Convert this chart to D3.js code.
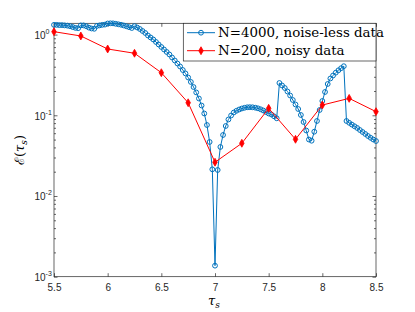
<!DOCTYPE html>
<html><head><meta charset="utf-8">
<script src="https://cdn.jsdelivr.net/npm/d3@7"></script>
<style>body{margin:0;background:#fff}svg{display:block}</style>
</head><body>
<script>
// ---- data ----
const blueStart = 5.5, blueStep = 0.025;
const blueValues = [
 1.32,1.32,1.31,1.31,1.30,1.29,1.27,1.24,1.21,1.20,
 1.30,1.30,1.27,1.22,1.19,1.18,1.28,1.30,1.32,1.33,
 1.373,1.38,1.378,1.361,1.341,1.323,1.297,1.267,1.235,1.207,
 1.271,1.224,1.173,1.108,1.047,0.975,0.921,0.870,0.810,0.754,
 0.702,0.654,0.609,0.567,0.520,0.478,0.438,0.402,0.364,0.330,
 0.294,0.259,0.224,0.192,0.1615,0.1322,0.1053,0.0758,0.0467,0.0214,
 0.00137,0.0210,0.0405,0.0570,0.0737,0.0887,0.0994,0.1083,0.1137,0.1180,
 0.1214,0.1239,0.1257,0.1260,0.1257,0.1242,0.1221,0.1187,0.1147,0.1099,
 0.1053,0.1023,0.0972,0.0918,0.2513,0.2340,0.2180,0.1972,0.1759,0.1547,
 0.1361,0.1197,0.1009,0.0826,0.0648,0.0501,0.0484,0.0626,0.0850,0.1163,
 0.1504,0.1944,0.2443,0.2858,0.3112,0.3372,0.3611,0.3834,0.4058,0.0850,
 0.0807,0.0767,0.0731,0.0696,0.0657,0.0621,0.0587,0.0554,0.0526,0.0501,
 0.0480
];
const blueTau = blueValues.map((_, i) => +(blueStart + i * blueStep).toFixed(3));

const redTau = [5.5,5.75,6,6.25,6.5,6.75,7,7.25,7.5,7.75,8,8.25,8.5];
const redValues = [1.086,0.961,0.663,0.587,0.337,0.143,0.0262,0.045,0.122,0.0504,0.134,0.162,0.111];

const xTicks = [5.5,6,6.5,7,7.5,8,8.5];
const yTicks = [1e-3,1e-2,1e-1,1];
const yTickExp = ["-3","-2","-1","0"];
const legendLabels = ["N=4000, noise-less data","N=200, noisy data"];

// ---- layout ----
const W = 415, H = 312;
const L = 54, R = 376, T = 23.3, B = 276.7;
const blue = "#0072BD", red = "#FF0000", axisCol = "#262626";

const svg = d3.select("body").append("svg").attr("width", W).attr("height", H);

const x = d3.scaleLinear().domain([5.5, 8.5]).range([L, R]);
const y = d3.scaleLog().domain([1e-3, d3.max(blueValues)]).range([B, T]);

const minor = [];
for (let e = -3; e < 1; e++) for (let k = 2; k <= 9; k++) { const v = k * Math.pow(10, e); if (v <= y.domain()[1]) minor.push(v); }

const axG = svg.append("g");
function styleAxis(g){ g.selectAll("path,line").attr("stroke", axisCol).attr("stroke-width", 0.7); g.select(".domain").remove(); }

axG.append("g").attr("transform", `translate(0,${B})`)
  .call(d3.axisBottom(x).tickValues(xTicks).tickSizeInner(-3.5).tickSizeOuter(0).tickPadding(7).tickFormat(d => String(d)))
  .call(styleAxis)
  .call(g => g.selectAll("text").attr("fill", axisCol).attr("font-family", "Liberation Sans, Arial, sans-serif").attr("font-size", 10));
axG.append("g").attr("transform", `translate(0,${T})`)
  .call(d3.axisTop(x).tickValues(xTicks).tickSizeInner(-3.5).tickSizeOuter(0).tickFormat(""))
  .call(styleAxis);
axG.append("g").attr("transform", `translate(${L},0)`)
  .call(d3.axisLeft(y).tickValues(yTicks).tickSizeInner(-3.5).tickSizeOuter(0).tickFormat(""))
  .call(styleAxis);
axG.append("g").attr("transform", `translate(${L},0)`)
  .call(d3.axisLeft(y).tickValues(minor).tickSizeInner(-2).tickSizeOuter(0).tickFormat(""))
  .call(styleAxis);
axG.append("g").attr("transform", `translate(${R},0)`)
  .call(d3.axisRight(y).tickValues(yTicks).tickSizeInner(-3.5).tickSizeOuter(0).tickFormat(""))
  .call(styleAxis);
axG.append("g").attr("transform", `translate(${R},0)`)
  .call(d3.axisRight(y).tickValues(minor).tickSizeInner(-2).tickSizeOuter(0).tickFormat(""))
  .call(styleAxis);

yTicks.forEach((v, i) => {
  svg.append("text").attr("x", 45.5).attr("y", y(v) + 4.5)
    .attr("text-anchor", "end").attr("fill", axisCol)
    .attr("font-family", "Liberation Sans, Arial, sans-serif").attr("font-size", 10).text("10");
  svg.append("text").attr("x", 45.6).attr("y", y(v) - 0.5)
    .attr("fill", axisCol).attr("font-family", "Liberation Sans, Arial, sans-serif").attr("font-size", 7)
    .text(yTickExp[i]);
});

svg.append("rect").attr("x", L).attr("y", T).attr("width", R - L).attr("height", B - T)
  .attr("fill", "none").attr("stroke", axisCol).attr("stroke-width", 0.7);

svg.append("clipPath").attr("id", "clip").append("rect").attr("x", L - 4).attr("y", T - 4).attr("width", R - L + 8).attr("height", B - T + 8);
const plot = svg.append("g").attr("clip-path", "url(#clip)");

const blueData = blueTau.map((t, i) => [t, blueValues[i]]);
const redData = redTau.map((t, i) => [t, redValues[i]]);
const line = d3.line().x(d => x(d[0])).y(d => y(d[1]));

plot.append("path").datum(blueData).attr("d", line).attr("fill", "none").attr("stroke", blue).attr("stroke-width", 1);
plot.selectAll(".bm").data(blueData).join("circle").attr("class", "bm")
  .attr("cx", d => x(d[0])).attr("cy", d => y(d[1])).attr("r", 2.4)
  .attr("fill", "none").attr("stroke", blue).attr("stroke-width", 1);

plot.append("path").datum(redData).attr("d", line).attr("fill", "none").attr("stroke", red).attr("stroke-width", 1);
const diamond = d3.symbol().type(d3.symbolDiamond).size(18);
plot.selectAll(".rm").data(redData).join("path").attr("class", "rm")
  .attr("transform", d => `translate(${x(d[0])},${y(d[1])})`).attr("d", diamond)
  .attr("fill", red).attr("stroke", red).attr("stroke-width", 0.8);

const lg = svg.append("g");
lg.append("rect").attr("x", 183.3).attr("y", T).attr("width", R - 183.3).attr("height", 61 - T)
  .attr("fill", "#fff").attr("stroke", axisCol).attr("stroke-width", 0.7);
const ly = [32.7, 50.7];
[blue, red].forEach((c, i) => {
  lg.append("line").attr("x1", 187).attr("x2", 215).attr("y1", ly[i]).attr("y2", ly[i]).attr("stroke", c).attr("stroke-width", 1);
  if (i === 0) lg.append("circle").attr("cx", 201).attr("cy", ly[i]).attr("r", 2.4).attr("fill", "none").attr("stroke", c).attr("stroke-width", 1);
  else lg.append("path").attr("transform", `translate(201,${ly[i]})`).attr("d", diamond).attr("fill", c).attr("stroke", c).attr("stroke-width", 0.8);
  lg.append("text").attr("x", 218).attr("y", ly[i] + 4.5).attr("fill", "#000")
    .attr("font-family", "DejaVu Serif, serif").attr("font-size", 13.4)
    .text(legendLabels[i]);
});

const xl = svg.append("text").attr("x", 214).attr("y", 305).attr("text-anchor", "middle")
  .attr("font-family", "DejaVu Serif, serif").attr("font-size", 13).attr("fill", "#000");
xl.append("tspan").attr("font-style", "italic").text("τ");
xl.append("tspan").attr("font-style", "italic").attr("font-size", 9).attr("dy", 3).text("s");

const yl = svg.append("text").attr("transform", "translate(24,150) rotate(-90)").attr("text-anchor", "middle")
  .attr("font-family", "DejaVu Serif, serif").attr("font-size", 13).attr("fill", "#000");
yl.append("tspan").text("ℰ(");
yl.append("tspan").attr("font-style", "italic").text("τ");
yl.append("tspan").attr("font-style", "italic").attr("font-size", 9).attr("dy", 3).text("s");
yl.append("tspan").attr("dy", -3).text(")");
</script>
</body></html>
